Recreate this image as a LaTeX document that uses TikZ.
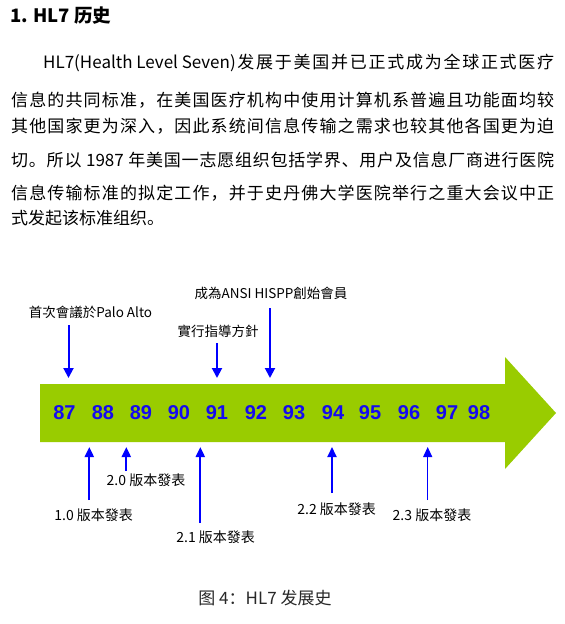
\documentclass[tikz,border=0pt]{standalone}
\usepackage{fontspec}
\setmainfont{Noto Sans CJK SC}
\newfontfamily\tcfont{Noto Sans CJK TC}
\newfontfamily\arialf{Liberation Sans}
\usetikzlibrary{arrows.meta}
\definecolor{bargreen}{RGB}{153,204,0}
\definecolor{yearblue}{RGB}{20,10,240}
\definecolor{arrblue}{RGB}{0,0,255}
\definecolor{captgray}{RGB}{40,40,40}
\def\spreadline#1{#1\spreadnext}
\def\spreadnext#1{\ifx\relax#1\else\hfil#1\expandafter\spreadnext\fi}
\tikzset{
  para/.style={anchor=west, inner sep=0pt, font=\fontsize{17}{20}\selectfont},
  year/.style={inner sep=0pt, text=yearblue, font=\arialf\bfseries\fontsize{20}{23}\selectfont},
  evlabel/.style={inner sep=0pt, font=\tcfont\fontsize{13.5}{16}\selectfont},
  verlabel/.style={inner sep=0pt, font=\tcfont\fontsize{14}{17}\selectfont},
  downarr/.style={draw=arrblue, line width=2pt, -{Triangle[width=10pt,length=10pt]}},
  uparr/.style={draw=arrblue, line width=2pt, -{Triangle[width=9pt,length=10pt]}},
  thinarr/.style={draw=arrblue, line width=1.2pt, -{Triangle[width=9pt,length=10pt]}}
}
\begin{document}
\begin{tikzpicture}[x=1pt,y=-1pt]
\useasboundingbox (0,0) rectangle (565,624);
\fill[white] (0,0) rectangle (565,624);
% heading and paragraph
\node[anchor=west, inner sep=0pt, font=\bfseries\fontsize{18.5}{22}\selectfont] (title) at (10,16) {1. HL7 历史};
\node[para] (l1) at (43,63) {\hbox to 511pt{\spreadline {HL7(Health Level Seven)}发展于美国并已正式成为全球正式医疗\relax}};
\node[para] (l2) at (11,100) {\hbox to 543pt{\spreadline 信息的共同标准，在美国医疗机构中使用计算机系普遍且功能面均较\relax}};
\node[para] (l3) at (11,126) {\hbox to 543pt{\spreadline 其他国家更为深入，因此系统间信息传输之需求也较其他各国更为迫\relax}};
\node[para] (l4) at (11,160) {\hbox to 543pt{\spreadline 切。所以{\ 1987\ }年美国一志愿组织包括学界、用户及信息厂商进行医院\relax}};
\node[para] (l5) at (11,193) {\hbox to 543pt{\spreadline 信息传输标准的拟定工作，并于史丹佛大学医院举行之重大会议中正\relax}};
\node[para] (l6) at (11,218) {式发起该标准组织。};
% big arrow
\fill[bargreen] (40,384) -- (505,384) -- (505,357) -- (556,413) -- (505,469) -- (505,442) -- (40,442) -- cycle;
% years
\node[year] (y87) at (64.5,413) {87};
\node[year] (y88) at (103,413) {88};
\node[year] (y89) at (141,413) {89};
\node[year] (y90) at (179,413) {90};
\node[year] (y91) at (217,413) {91};
\node[year] (y92) at (256,413) {92};
\node[year] (y93) at (294,413) {93};
\node[year] (y94) at (333,413) {94};
\node[year] (y95) at (370,413) {95};
\node[year] (y96) at (409,413) {96};
\node[year] (y97) at (447,413) {97};
\node[year] (y98) at (479,413) {98};
% top events
\node[evlabel] (e1) at (90.5,312) {首次會議於Palo Alto};
\node[evlabel] (e2) at (218,331) {實行指導方針};
\node[evlabel] (e3) at (271,293) {成為ANSI HISPP創始會員};
\coordinate (e1s) at (68.5,325); \coordinate (e1e) at (68.5,378);
\coordinate (e2s) at (217,343); \coordinate (e2e) at (217,378);
\coordinate (e3s) at (270,308); \coordinate (e3e) at (270,378);
\draw[downarr] (e1s) -- (e1e);
\draw[downarr] (e2s) -- (e2e);
\draw[downarr] (e3s) -- (e3e);
% bottom versions
\node[verlabel] (v10) at (93.7,515) {1.0 版本發表};
\node[verlabel] (v20) at (146,480) {2.0 版本發表};
\node[verlabel] (v21) at (215.7,537) {2.1 版本發表};
\node[verlabel] (v22) at (336.7,509) {2.2 版本發表};
\node[verlabel] (v23) at (432,515) {2.3 版本發表};
\coordinate (v10s) at (89.3,500); \coordinate (v10e) at (89.3,447);
\coordinate (v20s) at (126.3,471); \coordinate (v20e) at (126.3,447);
\coordinate (v21s) at (200.3,523); \coordinate (v21e) at (200.3,447);
\coordinate (v22s) at (332,493); \coordinate (v22e) at (332,447);
\coordinate (v23s) at (427.7,500); \coordinate (v23e) at (427.7,447);
\draw[uparr] (v10s) -- (v10e);
\draw[uparr] (v20s) -- (v20e);
\draw[uparr] (v21s) -- (v21e);
\draw[uparr] (v22s) -- (v22e);
\draw[thinarr] (v23s) -- (v23e);
% caption
\node[inner sep=0pt, text=captgray, font=\fontsize{17}{20}\selectfont] (cap) at (265,598) {图 4：HL7 发展史};
\end{tikzpicture}
\end{document}
